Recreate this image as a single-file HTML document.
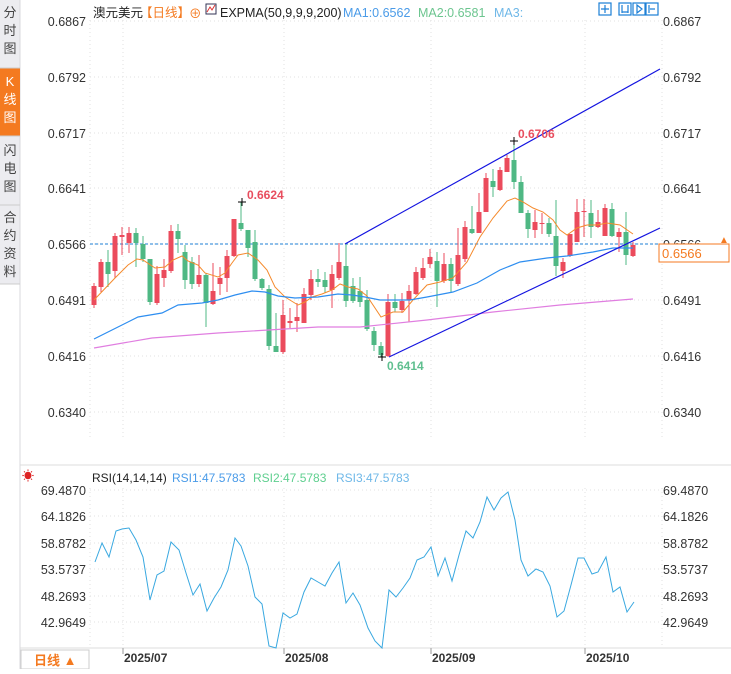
<!DOCTYPE html>
<html><head><meta charset="utf-8"><style>
body{margin:0;width:731px;height:669px;overflow:hidden;background:#fff;font-family:"Liberation Sans","Noto Sans CJK SC",sans-serif;}
svg text{font-family:"Liberation Sans","Noto Sans CJK SC",sans-serif;}
</style></head><body>
<svg id="s" width="731" height="669" xmlns="http://www.w3.org/2000/svg">
<rect x="0" y="0" width="20" height="284" fill="#ececf0"/>
<line x1="20" y1="0" x2="20" y2="669" stroke="#d8d8dc"/>
<rect x="0" y="68" width="20" height="68" fill="#f47a20"/>
<g font-size="13" fill="#444" text-anchor="middle">
<text x="10" y="17">分</text><text x="10" y="35">时</text><text x="10" y="53">图</text>
<text x="10" y="86" fill="#fff">K</text><text x="10" y="104" fill="#fff">线</text><text x="10" y="122" fill="#fff">图</text>
<text x="10" y="155">闪</text><text x="10" y="173">电</text><text x="10" y="191">图</text>
<text x="10" y="222">合</text><text x="10" y="240">约</text><text x="10" y="258">资</text><text x="10" y="276">料</text>
</g>
<line x1="0" y1="68" x2="20" y2="68" stroke="#ccc"/><line x1="0" y1="136" x2="20" y2="136" stroke="#ccc"/><line x1="0" y1="205" x2="20" y2="205" stroke="#ccc"/><line x1="0" y1="284" x2="20" y2="284" stroke="#ccc"/>
<g id="grid" stroke="#e2e2e2" stroke-dasharray="1,3"></g>
<line x1="20" y1="465" x2="731" y2="465" stroke="#ddd"/>
<line x1="20" y1="648" x2="731" y2="648" stroke="#ddd"/>
<rect x="21" y="650" width="68" height="19" fill="#fff" stroke="#ccc"/>
<text x="34" y="665" font-size="13" fill="#f47a20" font-weight="bold">日线 ▲</text>
<g font-size="12" font-weight="bold" fill="#333">
<text x="124" y="662">2025/07</text><text x="285" y="662">2025/08</text><text x="432" y="662">2025/09</text><text x="586" y="662">2025/10</text>
</g>
<g stroke="#999"><line x1="123" y1="648" x2="123" y2="654"/><line x1="284" y1="648" x2="284" y2="654"/><line x1="431" y1="648" x2="431" y2="654"/><line x1="585" y1="648" x2="585" y2="654"/></g>
<g font-size="12.5" fill="#222">
<text x="93" y="17">澳元美元</text><text x="140" y="17" fill="#f47a20">【日线】</text><text x="189" y="18" fill="#f47a20">⊕</text>
<rect x="206" y="4" width="10" height="10" fill="none" stroke="#335" /><polyline points="207,12 210,7 212,10 215,5" fill="none" stroke="#d33"/>
<text x="220" y="17">EXPMA(50,9,9,9,200)</text>
<text x="343" y="17" fill="#4a9be8">MA1:0.6562</text><text x="418" y="17" fill="#6cc58f">MA2:0.6581</text><text x="494" y="17" fill="#6fb8e8">MA3:</text>
</g>
<g fill="none" stroke="#1c7fd6" stroke-width="1.2"><rect x="599" y="3" width="12" height="12"/><rect x="619" y="3" width="12" height="12"/><rect x="633" y="3" width="12" height="12"/><rect x="646" y="3" width="12" height="12"/>
<path d="M605,5v8M601,9h8M622,5v8M628,5v8M622,12h6M637,5v8l5,-4z M649,5v8M650,9h5"/></g>
<g font-size="12.5" fill="#333" id="labels"></g>
<line x1="90" y1="244" x2="660" y2="244" stroke="#1c7fd6" stroke-dasharray="3,2"/>
<rect x="659" y="244" width="70" height="18" fill="#fff" stroke="#f47a20"/>
<text x="662" y="258" font-size="13" fill="#f47a20">0.6566</text>
<text x="719" y="243" font-size="10" fill="#f47a20">▲</text>
<g id="c"></g>
<polyline id="o" fill="none" stroke="#f58a2c" stroke-width="1"/>
<polyline id="b" fill="none" stroke="#2e8ef0" stroke-width="1.2"/>
<polyline id="m" fill="none" stroke="#e07ee0" stroke-width="1.2"/>
<line x1="345" y1="244" x2="660" y2="69" stroke="#1414e0" stroke-width="1.2"/>
<line x1="389" y1="357" x2="660" y2="228" stroke="#1414e0" stroke-width="1.2"/>
<g stroke="#000"><line x1="238" y1="202" x2="246" y2="202"/><line x1="242" y1="198" x2="242" y2="206"/>
<line x1="510" y1="141" x2="518" y2="141"/><line x1="514" y1="137" x2="514" y2="145"/>
<line x1="378" y1="357" x2="386" y2="357"/><line x1="382" y1="353" x2="382" y2="361"/></g>
<g font-size="12" font-weight="bold"><text x="247" y="199" fill="#e84d5e">0.6624</text><text x="518" y="138" fill="#e84d5e">0.6706</text><text x="387" y="370" fill="#5fbf8f">0.6414</text></g>
<text x="22" y="480" font-size="12" fill="#d22">☀</text>
<g font-size="12"><text x="92" y="482" fill="#222">RSI(14,14,14)</text><text x="172" y="482" fill="#4a9be8">RSI1:47.5783</text><text x="253" y="482" fill="#5fcf8f">RSI2:47.5783</text><text x="336" y="482" fill="#6fb8e8">RSI3:47.5783</text></g>
<polyline id="r" fill="none" stroke="#39a8e0" stroke-width="1"/>
</svg>
<script>
var NS="http://www.w3.org/2000/svg";
function el(p,t,a){var e=document.createElementNS(NS,t);for(var k in a)e.setAttribute(k,a[k]);p.appendChild(e);return e;}
var g=document.getElementById('grid'),L=document.getElementById('labels');
var pl=[["0.6867",21],["0.6792",77],["0.6717",133],["0.6641",188],["0.6566",244],["0.6491",300],["0.6416",356],["0.6340",412]];
var rl=[["69.4870",490],["64.1826",516],["58.8782",543],["53.5737",569],["48.2693",596],["42.9649",622]];
pl.concat(rl).forEach(function(a){el(g,'line',{x1:90,y1:a[1],x2:662,y2:a[1]});
var t=el(L,'text',{x:86,y:a[1]+5,'text-anchor':'end'});t.textContent=a[0];
var t2=el(L,'text',{x:663,y:a[1]+5});t2.textContent=a[0];});
[90,123,284,431,585,662].forEach(function(x){el(g,'line',{x1:x,y1:20,x2:x,y2:440});el(g,'line',{x1:x,y1:488,x2:x,y2:645});});
var C=[[286,305,283,308,1],[262,287,259,292,1],[262,274,250,287,0],[236,271,233,278,1],[235,237,227,255,1],[233,243,227,253,1],[233,243,228,267,0],[244,259,236,262,0],[259,302,259,305,0],[274,303,266,305,1],
[270,278,259,287,1],[231,271,225,273,1],[231,239,224,253,0],[252,280,245,289,0],[262,284,257,289,0],[275,284,255,287,1],[275,303,273,327,0],[291,304,263,305,1],[278,284,267,295,1],[256,278,250,292,1],
[219,256,219,257,1],[223,229,202,231,0],[230,248,230,257,0],[242,279,230,281,0],[279,288,278,290,0],[289,346,285,350,0],[346,352,313,352,0],[315,352,300,354,1],[321,323,308,328,1],[317,321,303,332,1],
[294,323,288,323,1],[279,295,270,300,1],[279,282,269,287,0],[280,287,272,293,0],[274,290,265,308,1],[262,278,243,280,1],[266,301,243,307,0],[286,301,278,303,0],[291,302,277,307,0],[300,329,290,331,0],
[331,345,327,351,0],[346,355,342,357,0],[302,356,294,357,1],[302,308,294,312,0],[301,310,293,313,1],[291,300,285,322,1],[272,294,267,295,1],[268,278,258,280,1],[257,264,249,268,1],[261,281,252,307,0],
[264,281,253,283,1],[264,281,258,293,0],[255,284,228,286,1],[227,259,221,262,1],[229,233,206,234,0],[212,233,193,233,1],[178,212,173,212,1],[181,187,169,197,0],[170,190,167,191,1],[158,172,155,172,1],
[160,182,141,189,0],[182,213,176,213,0],[213,229,210,238,0],[222,230,210,238,1],[223,224,213,234,1],[223,234,218,237,0],[236,266,200,276,0],[262,271,258,278,1],[234,256,234,257,1],[212,242,199,242,1],
[211,212,199,237,1],[213,227,200,238,0],[222,227,210,228,1],[208,236,204,236,1],[209,236,203,237,0],[232,237,228,252,1],[232,255,212,265,0],[245,256,242,257,1]];
var cg=document.getElementById('c');
C.forEach(function(c,i){var x=94+7*i,col=c[4]?'#eb4b5c':'#4fb884';
el(cg,'line',{x1:x,y1:c[2],x2:x,y2:c[3],stroke:col});
el(cg,'rect',{x:x-2.5,y:c[0],width:5,height:Math.max(1,c[1]-c[0]),fill:col});});
document.getElementById('o').setAttribute('points',"94,300 115,278 128,265 137,259 143,260 155,268 165,267 173,260 182,256 188,261 198,265 205,273 218,277 225,273 232,263 238,255 248,253 258,260 267,270 275,287 285,297 298,305 305,302 312,297 322,294 332,290 340,284 348,287 358,289 367,296 381,317 393,312 403,312 413,300 427,285 440,282 453,278 467,262 480,237 493,218 507,201 515,198 523,202 533,208 543,212 553,220 560,230 567,235 577,228 587,225 597,225 607,223 620,225 633,234");
document.getElementById('b').setAttribute('points',"94,339 118,327 138,317 162,313 178,305 202,303 218,300 235,295 252,291 265,292 278,296 295,298 318,297 338,294 352,295 365,297 380,300 410,300 427,297 453,292 477,283 500,270 520,262 547,258 567,256 593,252 613,248 633,248");
document.getElementById('m').setAttribute('points',"94,348 152,338 218,333 285,329 318,327 360,327 427,320 493,312 560,305 633,299");
document.getElementById('r').setAttribute('points',"95,562 102,543 109,557 116,531 122,529 129,528 136,540 143,557 150,600 157,575 164,571 171,542 179,550 186,573 193,595 200,584 207,611 214,598 221,587 228,570 235,538 241,546 248,566 255,597 262,604 269,646 276,648 283,613 290,618 297,614 304,592 311,578 318,582 325,586 332,573 339,562 346,603 353,593 360,605 368,628 375,641 382,648 389,590 396,597 403,588 410,578 417,560 424,557 431,547 438,576 445,558 452,581 459,555 466,531 473,538 480,522 487,497 494,510 501,498 508,492 515,520 521,560 528,576 536,569 543,572 550,586 557,617 564,611 571,585 578,558 584,558 592,574 598,572 606,557 613,592 620,587 627,612 634,602");
</script>
</body></html>
